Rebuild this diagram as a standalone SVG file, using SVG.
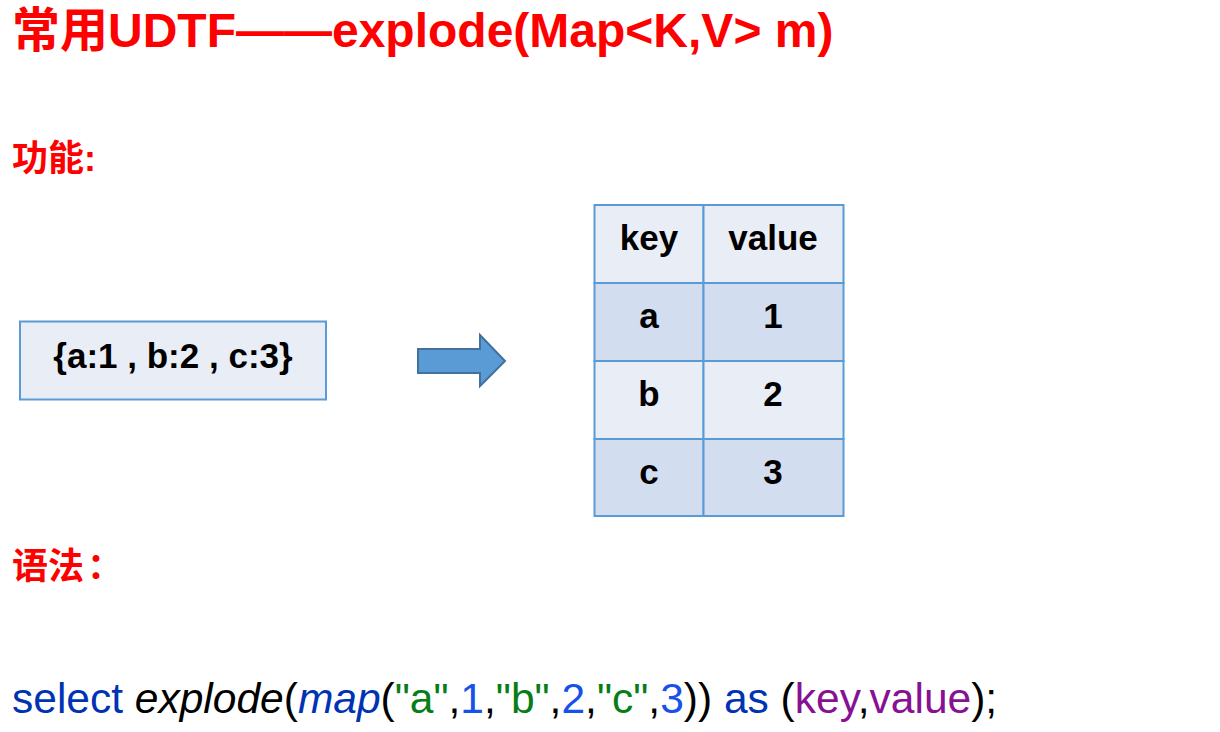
<svg xmlns="http://www.w3.org/2000/svg" width="1220" height="732" viewBox="0 0 1220 732">
<style>
.red{fill:#FF0000;font-family:"Liberation Sans","Noto Sans CJK SC",sans-serif;font-weight:bold}
.cell{stroke:#5B9BD5;stroke-width:2}
.lt{fill:#E9EDF6}
.dk{fill:#D2DEEF}
.bt{font-family:"Liberation Sans",Arial,sans-serif;font-weight:bold;fill:#000;text-anchor:middle}
.code{font-family:"Liberation Sans",Arial,sans-serif;font-size:42.5px;fill:#000}
.kw{fill:#0033B3}
.str{fill:#067D17}
.num{fill:#1750EB}
.var{fill:#871094}
</style>
<rect width="1220" height="732" fill="#FFFFFF"/>
<text class="red" x="12" y="47" font-size="48">常用UDTF——explode(Map&lt;K,V&gt; m)</text>
<text class="red" x="12" y="171" font-size="36">功能:</text>
<text class="red" x="12" y="579" font-size="36">语法<tspan dx="3">：</tspan></text>
<g id="input">
<rect class="cell lt" x="20" y="321.5" width="306" height="78"/>
<text class="bt" x="173" y="368" font-size="35">{a:1 , b:2 , c:3}</text>
</g>
<g id="connectors">
<path d="M418,349 H480 V335 L505,361 L480,386 V373 H418 Z" fill="#5B9BD5" stroke="#41719C" stroke-width="2"/>
</g>
<g id="table">
<rect class="cell lt" x="594.5" y="205" width="109" height="78"/>
<rect class="cell lt" x="703.5" y="205" width="140" height="78"/>
<rect class="cell dk" x="594.5" y="283" width="109" height="78"/>
<rect class="cell dk" x="703.5" y="283" width="140" height="78"/>
<rect class="cell lt" x="594.5" y="361" width="109" height="78"/>
<rect class="cell lt" x="703.5" y="361" width="140" height="78"/>
<rect class="cell dk" x="594.5" y="439" width="109" height="77"/>
<rect class="cell dk" x="703.5" y="439" width="140" height="77"/>
<text class="bt" x="649" y="250" font-size="35">key</text>
<text class="bt" x="773" y="250" font-size="35">value</text>
<text class="bt" x="649" y="328" font-size="35">a</text>
<text class="bt" x="773" y="328" font-size="35">1</text>
<text class="bt" x="649" y="406" font-size="35">b</text>
<text class="bt" x="773" y="406" font-size="35">2</text>
<text class="bt" x="649" y="484" font-size="35">c</text>
<text class="bt" x="773" y="484" font-size="35">3</text>
</g>
<text class="code" x="12" y="713"><tspan class="kw">select</tspan> <tspan font-style="italic">explode</tspan>(<tspan class="kw" font-style="italic">map</tspan>(<tspan class="str">"a"</tspan>,<tspan class="num">1</tspan>,<tspan class="str">"b"</tspan>,<tspan class="num">2</tspan>,<tspan class="str">"c"</tspan>,<tspan class="num">3</tspan>)) <tspan class="kw">as</tspan> (<tspan class="var">key</tspan>,<tspan class="var">value</tspan>);</text>
</svg>
